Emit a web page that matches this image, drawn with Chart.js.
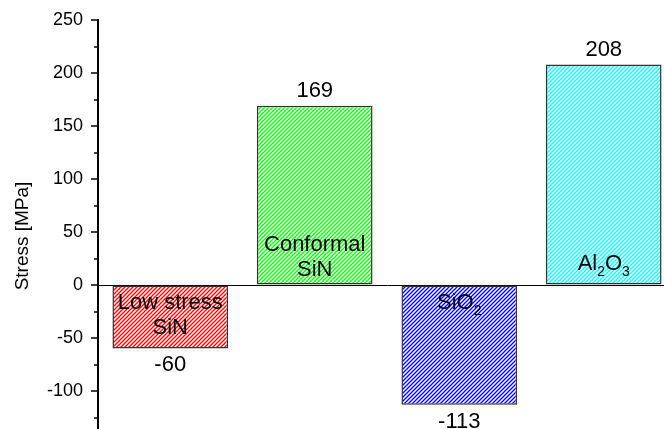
<!DOCTYPE html>
<html>
<head>
<meta charset="utf-8">
<script src="https://cdn.jsdelivr.net/npm/chart.js@4.4.1/dist/chart.umd.min.js"></script>
<style>
html, body { margin: 0; padding: 0; background: #fff; overflow: hidden; }
#wrap { width: 664px; height: 429px; overflow: hidden; position: relative; }
canvas { display: block; }
</style>
</head>
<body>
<div id="wrap"><canvas id="c" width="680" height="456" style="width:680px;height:456px"></canvas></div>
<script>
// Film stress per deposited layer
const categories = ['Low stress SiN', 'Conformal SiN', 'SiO2', 'Al2O3'];
const stressValues = [-60, 169, -113, 208];
const valueLabels = ['-60', '169', '-113', '208'];
// text written inside each bar: lines made of [text, isSubscript] runs
const barLabelLines = [
  [[['Low stress', false]], [['SiN', false]]],
  [[['Conformal', false]], [['SiN', false]]],
  [[['SiO', false], ['2', true]]],
  [[['Al', false], ['2', true], ['O', false], ['3', true]]]
];
const hatchColors = ['#ff0000', '#00ff00', '#0000ff', '#00ffff'];
const yMin = -150, yMax = 250, yMajorStep = 50, yMinorStep = 25;
const yAxisTitle = 'Stress [MPa]';

const FONT = "'Liberation Sans', Arial, sans-serif";

function hatch(color) {
  const s = 4;
  const c = document.createElement('canvas');
  c.width = s; c.height = s;
  const g = c.getContext('2d');
  g.fillStyle = '#fff';
  g.fillRect(0, 0, s, s);
  g.strokeStyle = color;
  g.lineWidth = 1.3;
  g.beginPath();
  g.moveTo(-1, s + 1); g.lineTo(s + 1, -1);
  g.moveTo(-1, 1); g.lineTo(1, -1);
  g.moveTo(s - 1, s + 1); g.lineTo(s + 1, s - 1);
  g.stroke();
  return g.createPattern(c, 'repeat');
}

function lineWidthOf(ctx, runs) {
  let w = 0;
  for (const [t, sub] of runs) {
    ctx.font = (sub ? 14 : 22) + 'px ' + FONT;
    w += ctx.measureText(t).width;
  }
  return w;
}

function drawRuns(ctx, runs, cx, baseline) {
  let x = cx - lineWidthOf(ctx, runs) / 2;
  for (const [t, sub] of runs) {
    ctx.font = (sub ? 14 : 22) + 'px ' + FONT;
    ctx.fillText(t, x, sub ? baseline + 6 : baseline);
    x += ctx.measureText(t).width;
  }
}

const decor = {
  id: 'decor',
  afterDatasetsDraw(chart) {
    const { ctx, chartArea } = chart;
    const y = chart.scales.y;
    ctx.save();

    // major and minor tick marks, pointing outward
    ctx.strokeStyle = '#000';
    ctx.lineWidth = 1.5;
    for (let v = yMin; v <= yMax; v += yMinorStep) {
      const py = Math.round(y.getPixelForValue(v));
      const len = v % yMajorStep === 0 ? 7 : 4;
      ctx.beginPath();
      ctx.moveTo(chartArea.left - len, py);
      ctx.lineTo(chartArea.left, py);
      ctx.stroke();
    }

    // axis title
    ctx.save();
    ctx.translate(23, 236);
    ctx.rotate(-Math.PI / 2);
    ctx.fillStyle = '#000';
    ctx.font = '19px ' + FONT;
    ctx.textAlign = 'center';
    ctx.textBaseline = 'middle';
    ctx.fillText(yAxisTitle, 0, 0);
    ctx.restore();

    // value labels and names inside bars
    const meta = chart.getDatasetMeta(0);
    const zero = y.getPixelForValue(0);
    const cap = 15.8;
    ctx.fillStyle = '#000';
    ctx.textAlign = 'left';
    ctx.textBaseline = 'alphabetic';
    meta.data.forEach((bar, i) => {
      const v = stressValues[i];
      const end = y.getPixelForValue(v);
      ctx.font = '22px ' + FONT;
      const vt = valueLabels[i];
      const vw = ctx.measureText(vt).width;
      const vb = v >= 0 ? end - 9 : end + 7 + cap;
      ctx.fillText(vt, bar.x - vw / 2, vb);

      const lines = barLabelLines[i];
      if (v < 0) {
        let b = zero + 8 + cap;
        for (const runs of lines) { drawRuns(ctx, runs, bar.x, b); b += 25; }
      } else {
        const last = lines[lines.length - 1];
        const hasSub = last.some(r => r[1]);
        let b = zero - 9 - (hasSub ? 6 : 0);
        for (let k = lines.length - 1; k >= 0; k--) { drawRuns(ctx, lines[k], bar.x, b); b -= 25; }
      }
    });
    ctx.restore();
  }
};

new Chart(document.getElementById('c'), {
  type: 'bar',
  data: {
    labels: categories,
    datasets: [{
      data: stressValues,
      backgroundColor: hatchColors.map(hatch),
      borderColor: '#333',
      borderWidth: 1.5,
      borderSkipped: false,
      barPercentage: 0.8,
      categoryPercentage: 1
    }]
  },
  options: {
    responsive: false,
    maintainAspectRatio: false,
    animation: false,
    devicePixelRatio: 1,
    layout: { padding: { top: 20, right: 4, bottom: 12, left: 0 } },
    plugins: { legend: { display: false }, tooltip: { enabled: false } },
    scales: {
      x: { display: false },
      y: {
        min: yMin,
        max: yMax,
        afterFit(scale) { scale.width = 98; },
        ticks: {
          stepSize: yMinorStep,
          padding: 0,
          color: '#000',
          font: { family: FONT, size: 18 },
          callback: v => (v % yMajorStep === 0 ? String(v) : '')
        },
        grid: {
          drawTicks: true,
          tickLength: 15,
          tickColor: 'rgba(0,0,0,0)',
          lineWidth: 1,
          color: c => (c.tick && c.tick.value === 0 ? '#000' : 'rgba(0,0,0,0)')
        },
        border: { display: true, color: '#000', width: 2 }
      }
    }
  },
  plugins: [decor]
});
</script>
</body>
</html>
